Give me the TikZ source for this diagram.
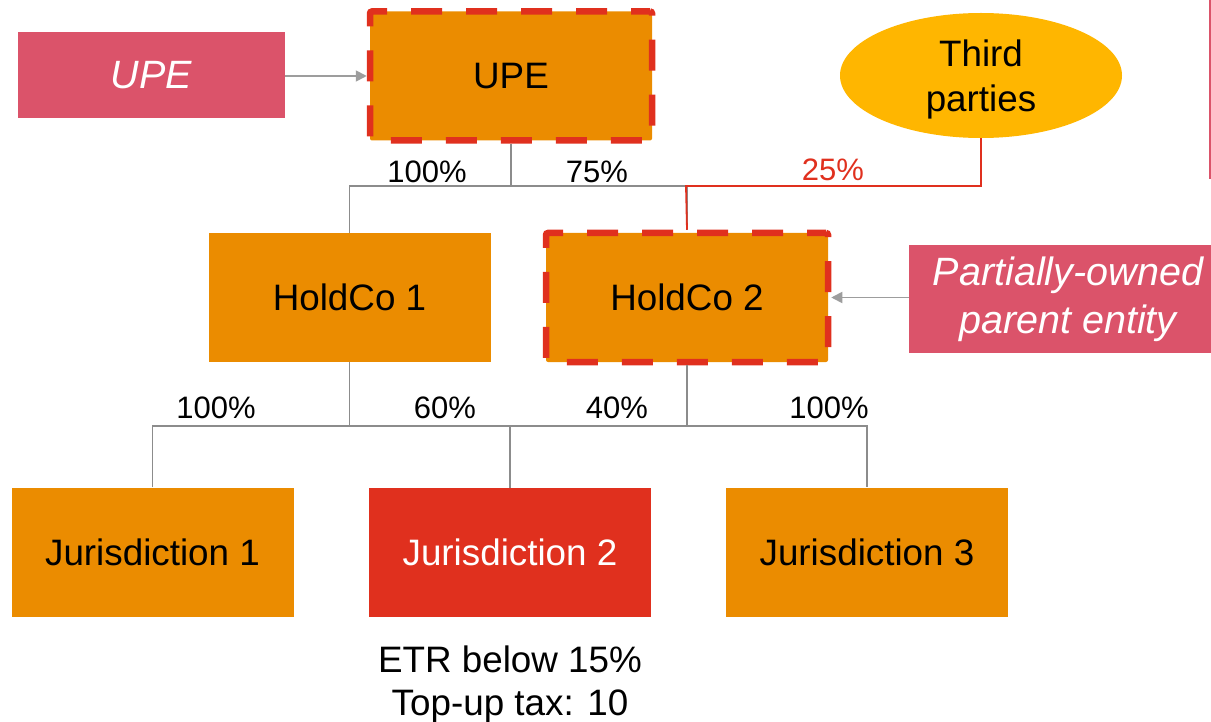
\documentclass[tikz,border=0pt]{standalone}
\usepackage{fontspec}
\setmainfont{Liberation Sans}
\usetikzlibrary{shapes.geometric,arrows.meta}

\definecolor{entity}{HTML}{EB8C00}
\definecolor{lowtax}{HTML}{E0301E}
\definecolor{thirdp}{HTML}{FFB600}
\definecolor{tag}{HTML}{DB536A}
\definecolor{link}{HTML}{8C8C8C}

\tikzset{
  boxtext/.style={font=\fontsize{36.8}{43}\selectfont},
  pcttext/.style={font=\fontsize{31}{36}\selectfont},
  entitybox/.style={boxtext, rectangle, fill=entity, inner sep=0pt,
    minimum width=282pt, minimum height=129pt, align=center},
  flagged/.style={draw=lowtax, line width=6.5pt, dash pattern=on 31pt off 24pt,
    dash phase=12pt, rounded corners=2pt},
  tagbox/.style={rectangle, fill=tag, text=white, inner sep=0pt, align=center,
    font=\fontsize{39.5}{48}\selectfont\itshape},
  own/.style={draw=link, line width=1.8pt},
  pointer/.style={draw=link!85, line width=1.8pt, -{Triangle[length=11pt,width=11pt]}},
}

\begin{document}
\begin{tikzpicture}[x=1pt,y=-1pt]
  \useasboundingbox (0,0) rectangle (1211,722);
  \clip (0,0) rectangle (1211,722);

  % entities
  \node[entitybox, flagged] (upe) at (511,76) {UPE};
  \node[entitybox] (hc1) at (349.5,297.5) {HoldCo 1};
  \node[entitybox, flagged] (hc2) at (687,297.5) {HoldCo 2};
  \node[entitybox] (jur1) at (152.5,552) {Jurisdiction 1};
  \node[entitybox, fill=lowtax, text=white] (jur2) at (510,552.5) {Jurisdiction 2};
  \node[entitybox] (jur3) at (867,552) {Jurisdiction 3};
  \node[boxtext, ellipse, fill=thirdp, inner sep=0pt, minimum width=282pt,
        minimum height=125pt] (third) at (981,75.5)
        {\raisebox{-5pt}[\height][\depth]{\begin{tabular}{@{}c@{}}Third\\[2pt]parties\end{tabular}}};

  % explanatory tags
  \node[tagbox, minimum width=267pt, minimum height=86pt] (tagupe) at (151.5,75) {UPE};
  \node[tagbox, minimum width=318pt, minimum height=108pt] (tagpope) at (1068,299)
    {Partially-owned\\parent entity};
  \node[rectangle, fill=tag, minimum width=60pt, minimum height=185pt, inner sep=0pt,
        anchor=north west] (tagedge) at (1208.5,-6) {};

  \draw[pointer] (tagupe.east |- upe.west) -- (upe.west);
  \draw[pointer] (tagpope.west |- hc2.east) -- (hc2.east);

  % ownership lines
  \coordinate (busA) at (511,186);
  \coordinate (busB) at (510,426);
  \draw[own] (upe.south) -- (busA);
  \draw[own] (hc1.north) |- (busA) -| (hc2.north);
  \draw[draw=lowtax, line width=1.8pt] (third.south) |- ([xshift=-1pt]hc2.north |- busA) -- (hc2.north);
  \draw[own] (hc1.south) |- (busB);
  \draw[own] (hc2.south) |- (busB);
  \draw[own] (jur1.north) |- (busB) -| (jur3.north);
  \draw[own] (busB) -- (jur2.north);

  % percentages
  \node[pcttext] (p100a) at (427,172) {100\%};
  \node[pcttext] (p75) at (597,172) {75\%};
  \node[pcttext, text=lowtax] (p25) at (833,170) {25\%};
  \node[pcttext] (p100b) at (216,408) {100\%};
  \node[pcttext] (p60) at (445,408) {60\%};
  \node[pcttext] (p40) at (617,408) {40\%};
  \node[pcttext] (p100c) at (829,408) {100\%};

  % note below Jurisdiction 2
  \node[boxtext, align=center] (note) at (510,684) {ETR below 15\%\\Top-up tax: 10};
\end{tikzpicture}
\end{document}
